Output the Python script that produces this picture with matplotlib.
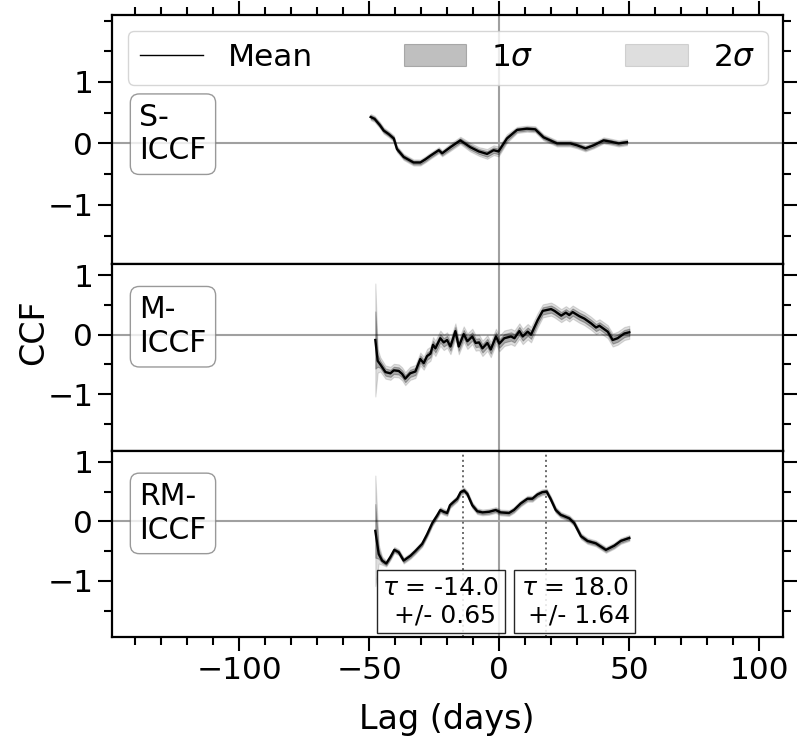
import numpy as np
import matplotlib
matplotlib.use("Agg")
import matplotlib.pyplot as plt
from matplotlib.ticker import MultipleLocator, FixedLocator
from matplotlib.lines import Line2D
from matplotlib.patches import Patch

# ---------------- data ----------------
panel_names = ["S-\nICCF", "M-\nICCF", "RM-\nICCF"]

lags_s = [-49.5, -48, -46, -44.5, -42.5, -40.6, -39.4, -36.8, -33, -30.4, -28.5, -26.5,
          -23.3, -22, -18.8, -15, -11.2, -7.9, -4.7, -2.2, -0.3, 2.9, 6.8, 10.6, 13.8,
          17, 22.2, 27.3, 29.9, 33.1, 36.3, 40.1, 42.7, 45.9, 49.1]
vals_s = [0.43, 0.40, 0.30, 0.21, 0.15, 0.08, -0.09, -0.22, -0.31, -0.31, -0.26, -0.20,
          -0.11, -0.16, -0.06, 0.05, -0.06, -0.13, -0.17, -0.11, -0.13, 0.08, 0.22, 0.24, 0.23,
          0.10, 0.00, 0.00, -0.03, -0.08, -0.03, 0.05, 0.03, 0.00, 0.02]
sig1_s = [0.03, 0.03, 0.03, 0.03, 0.03, 0.03, 0.03, 0.03, 0.03, 0.03, 0.03, 0.03,
          0.03, 0.03, 0.035, 0.035, 0.04, 0.04, 0.045, 0.045, 0.045, 0.04, 0.03, 0.03, 0.03,
          0.03, 0.03, 0.03, 0.03, 0.03, 0.03, 0.03, 0.03, 0.03, 0.03]
sig2_s = [0.05, 0.05, 0.05, 0.05, 0.05, 0.05, 0.05, 0.05, 0.05, 0.05, 0.05, 0.05,
          0.05, 0.05, 0.06, 0.06, 0.07, 0.07, 0.08, 0.08, 0.08, 0.07, 0.05, 0.05, 0.05,
          0.05, 0.05, 0.05, 0.05, 0.05, 0.05, 0.05, 0.05, 0.05, 0.05]

lags_m = [-47.7, -46.8, -45.8, -43.8, -41.9, -40.6, -38.7, -37.4, -36.2, -34.3, -32.3, -30.4,
          -29.1, -27.8, -26.5, -25.5, -24.6, -22.7, -21.4, -20.1, -18.8, -16.9, -15.6, -13.7,
          -12.3, -10.4, -9.1, -7.8, -6.5, -4.6, -3.3, -1.3, 0.0, 1.9, 4.5, 5.8, 7.7, 9.0,
          10.9, 12.2, 14.7, 16.7, 19.9, 21.2, 23.8, 25.6, 26.9, 28.2, 30.8, 32.7, 35.3, 37.2,
          38.5, 41.7, 43.6, 45.5, 48.1, 50.0]
vals_m = [-0.09, -0.44, -0.50, -0.63, -0.65, -0.60, -0.61, -0.66, -0.74, -0.65, -0.62, -0.41,
          -0.48, -0.36, -0.32, -0.17, -0.23, -0.06, -0.13, -0.09, -0.20, 0.06, -0.20, 0.01,
          -0.11, -0.03, -0.14, -0.13, -0.23, -0.14, -0.25, -0.03, -0.15, -0.06, -0.03, -0.06,
          0.06, -0.03, 0.05, 0.00, 0.24, 0.40, 0.43, 0.40, 0.32, 0.37, 0.33, 0.38, 0.31, 0.27,
          0.19, 0.12, 0.15, 0.05, -0.09, -0.06, 0.02, 0.04]
sig1_m = [0.48, 0.10, 0.06, 0.06, 0.06, 0.06, 0.06, 0.06, 0.06, 0.06, 0.06, 0.06,
          0.06, 0.06, 0.06, 0.07, 0.07, 0.07, 0.07, 0.07, 0.07, 0.07, 0.07, 0.07,
          0.07, 0.07, 0.07, 0.07, 0.07, 0.07, 0.07, 0.07, 0.07, 0.07, 0.07, 0.07,
          0.07, 0.07, 0.07, 0.07, 0.06, 0.06, 0.06, 0.06, 0.06, 0.06, 0.06, 0.06, 0.06, 0.06,
          0.06, 0.06, 0.06, 0.06, 0.06, 0.06, 0.06, 0.06]
sig2_m = [0.95, 0.20, 0.12, 0.11, 0.11, 0.11, 0.11, 0.11, 0.11, 0.11, 0.11, 0.11,
          0.11, 0.12, 0.12, 0.13, 0.13, 0.13, 0.13, 0.13, 0.13, 0.13, 0.13, 0.13,
          0.13, 0.13, 0.13, 0.13, 0.13, 0.13, 0.13, 0.13, 0.13, 0.13, 0.13, 0.13,
          0.13, 0.13, 0.13, 0.13, 0.12, 0.11, 0.11, 0.11, 0.11, 0.11, 0.11, 0.11, 0.11, 0.11,
          0.11, 0.11, 0.11, 0.11, 0.11, 0.11, 0.11, 0.11]

lags_r = [-47.7, -46.4, -45.1, -43.5, -41.9, -40.4, -38.7, -36.8, -34.2, -32.3, -29.7, -27.8,
          -25.8, -23.9, -22.7, -21.4, -20.1, -19.0, -17.5, -16.2, -14.9, -13.6, -12.3, -10.4,
          -8.5, -6.5, -4.0, -1.4, 0.5, 3.7, 5.6, 8.2, 10.8, 12.7, 14.6, 16.5, 18.2, 19.7,
          21.7, 23.6, 26.9, 28.8, 31.4, 33.9, 37.1, 41.0, 44.2, 46.7, 50.0]
vals_r = [-0.16, -0.55, -0.66, -0.71, -0.60, -0.48, -0.52, -0.66, -0.58, -0.50, -0.38, -0.22,
          -0.03, 0.10, 0.19, 0.16, 0.14, 0.27, 0.33, 0.38, 0.49, 0.52, 0.46, 0.27,
          0.17, 0.15, 0.16, 0.19, 0.15, 0.14, 0.19, 0.30, 0.38, 0.38, 0.45, 0.49, 0.50, 0.38,
          0.19, 0.11, 0.05, -0.03, -0.25, -0.33, -0.37, -0.48, -0.41, -0.33, -0.28]
sig1_r = [0.45, 0.08, 0.04, 0.03, 0.03, 0.03, 0.03, 0.03, 0.03, 0.03, 0.03, 0.03,
          0.03, 0.03, 0.03, 0.03, 0.03, 0.03, 0.03, 0.03, 0.03, 0.03, 0.03, 0.03,
          0.03, 0.03, 0.03, 0.03, 0.03, 0.03, 0.03, 0.03, 0.03, 0.03, 0.03, 0.03, 0.03, 0.03,
          0.03, 0.03, 0.03, 0.03, 0.03, 0.03, 0.03, 0.03, 0.03, 0.03, 0.03]
sig2_r = [0.93, 0.16, 0.07, 0.05, 0.05, 0.05, 0.05, 0.05, 0.05, 0.05, 0.05, 0.05,
          0.05, 0.05, 0.05, 0.05, 0.05, 0.05, 0.05, 0.05, 0.05, 0.05, 0.05, 0.05,
          0.05, 0.05, 0.05, 0.05, 0.05, 0.05, 0.05, 0.05, 0.05, 0.05, 0.05, 0.05, 0.05, 0.05,
          0.05, 0.05, 0.05, 0.05, 0.05, 0.05, 0.05, 0.05, 0.05, 0.05, 0.05]

peak_lags = [-14.0, 18.0]
peak_errs = [0.65, 1.64]
legend_labels = ["Mean", r"1$\sigma$", r"2$\sigma$"]

series = [(lags_s, vals_s, sig1_s, sig2_s),
          (lags_m, vals_m, sig1_m, sig2_m),
          (lags_r, vals_r, sig1_r, sig2_r)]
ylims = [(-1.96, 2.09), (-1.95, 1.19), (-1.95, 1.19)]

# ---------------- figure ----------------
fig = plt.figure(figsize=(8, 7.5), dpi=100)
gs = fig.add_gridspec(3, 1, height_ratios=[4, 3, 3], hspace=0,
                      left=0.14, right=0.979, top=0.98, bottom=0.1503)
axes = [fig.add_subplot(gs[i]) for i in range(3)]

zero_c = "#a0a0a0"
for i, ax in enumerate(axes):
    lg, v, s1, s2 = [np.asarray(a, dtype=float) for a in series[i]]
    ax.axhline(0, color=zero_c, lw=1.5, zorder=1)
    ax.axvline(0, color=zero_c, lw=1.5, zorder=1)
    ax.fill_between(lg, v - s2, v + s2, color="k", alpha=0.13, lw=0.8, zorder=2)
    ax.fill_between(lg, v - s1, v + s1, color="k", alpha=0.25, lw=0.8, zorder=3)
    ax.plot(lg, v, color="k", lw=1.7, zorder=4)

    ax.set_xlim(-149, 109.2)
    ax.set_ylim(*ylims[i])
    ax.xaxis.set_major_locator(MultipleLocator(50))
    ax.xaxis.set_minor_locator(MultipleLocator(10))
    ax.yaxis.set_major_locator(FixedLocator([-1, 0, 1]))
    ax.yaxis.set_minor_locator(MultipleLocator(0.5))
    for sp in ax.spines.values():
        sp.set_linewidth(1.6)
    ax.tick_params(which="both", direction="out", left=True, right=True,
                   top=(i == 0), bottom=(i == 2), labelbottom=(i == 2),
                   labelsize=22.5, width=1.5)
    ax.tick_params(which="major", length=10)
    ax.tick_params(which="minor", length=5.5)

    ax.text(-138.5, 0.66, panel_names[i], ha="left", va="top", fontsize=21.5,
            zorder=6,
            bbox=dict(boxstyle="round,pad=0.3", fc="white", ec="gray", alpha=0.8))

# peak markers on RM-ICCF
ax3 = axes[2]
box_x = [-22.5, 29.0]
for pk, er, bx in zip(peak_lags, peak_errs, box_x):
    ax3.axvline(pk, color="dimgray", ls=":", lw=1.4, zorder=1.5)
    ax3.text(bx, -1.35, "$\\tau$ = %.1f\n +/- %.2f" % (pk, er), ha="center", va="center",
             multialignment="center", fontsize=18, zorder=7,
             bbox=dict(boxstyle="square,pad=0.22", fc="white", ec="black", alpha=0.85))

# legend
handles = [Line2D([], [], color="k", lw=1.0),
           Patch(facecolor="k", alpha=0.25, edgecolor="k", lw=0.8),
           Patch(facecolor="k", alpha=0.13, edgecolor="k", lw=0.8)]
axes[0].legend(handles, legend_labels, loc="upper center", ncol=3, mode="expand",
               bbox_to_anchor=(0, 0, 1, 1), fontsize=22.5)

fig.text(0.042, 0.557, "CCF", rotation=90, ha="center", va="center", fontsize=24)
fig.text(0.559, 0.04, "Lag (days)", ha="center", va="center", fontsize=24)

fig.savefig("out.png", dpi=100)
